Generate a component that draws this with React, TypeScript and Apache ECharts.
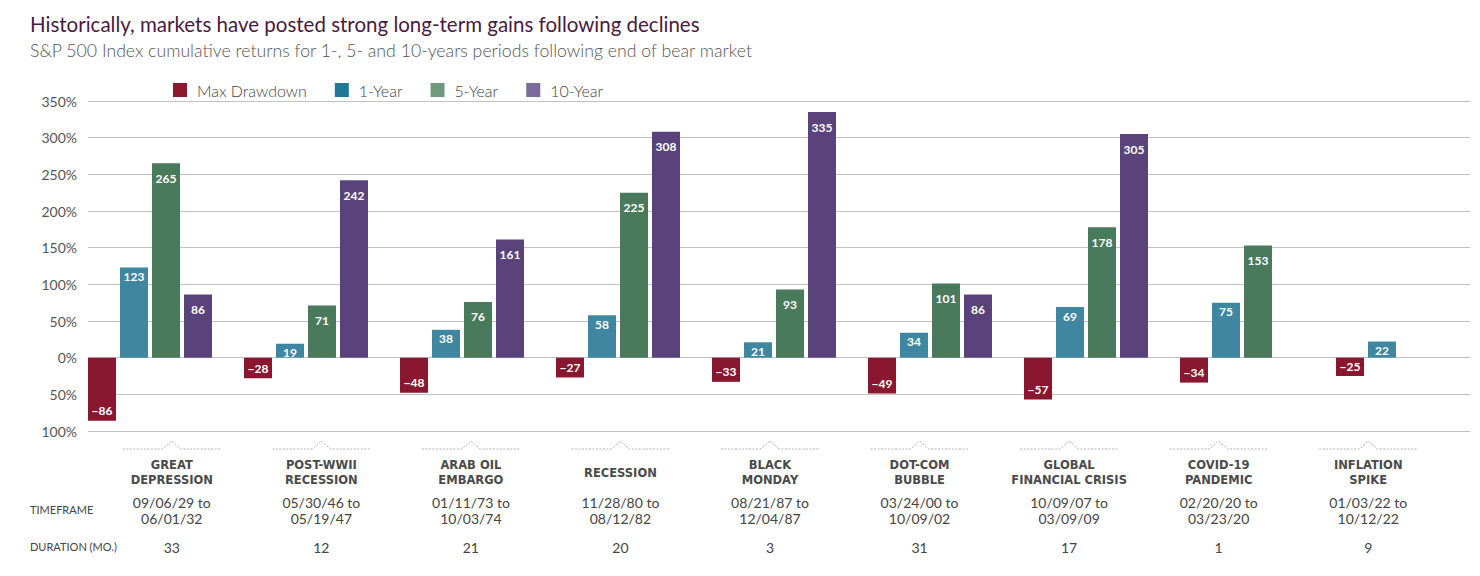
import React, { useEffect, useRef } from "react";
import * as echarts from "echarts";

const categories = [
  "GREAT\nDEPRESSION",
  "POST-WWII\nRECESSION",
  "ARAB OIL\nEMBARGO",
  "RECESSION",
  "BLACK\nMONDAY",
  "DOT-COM\nBUBBLE",
  "GLOBAL\nFINANCIAL CRISIS",
  "COVID-19\nPANDEMIC",
  "INFLATION\nSPIKE",
];
const timeframes = [
  "09/06/29 to\n06/01/32",
  "05/30/46 to\n05/19/47",
  "01/11/73 to\n10/03/74",
  "11/28/80 to\n08/12/82",
  "08/21/87 to\n12/04/87",
  "03/24/00 to\n10/09/02",
  "10/09/07 to\n03/09/09",
  "02/20/20 to\n03/23/20",
  "01/03/22 to\n10/12/22",
];
const durations = ["33", "12", "21", "20", "3", "31", "17", "1", "9"];

const maxDrawdown = [-86, -28, -48, -27, -33, -49, -57, -34, -25];
const oneYear = [123, 19, 38, 58, 21, 34, 69, 75, 22];
const fiveYear = [265, 71, 76, 225, 93, 101, 178, 153, null];
const tenYear = [86, 242, 161, 308, 335, 86, 305, null, null];

const yTicks = { min: -100, max: 350, interval: 50 };

const FONT = "Lato, 'Noto Sans', sans-serif";
const CAT_FONT = "'DejaVu Sans', 'Open Sans', sans-serif";

const barColors = ["#8a1730", "#3f87a0", "#4a7a5c", "#5a437a"];
const legendColors = ["#8b1a2e", "#1e7896", "#70997e", "#7a6a9e"];
const seriesNames = ["Max Drawdown", "1-Year", "5-Year", "10-Year"];

export default function App() {
  const ref = useRef<HTMLDivElement>(null);

  useEffect(() => {
    if (!ref.current) return;
    const chart = echarts.init(ref.current, null, { renderer: "svg" });

    const labelBase = {
      show: true,
      color: "#ffffff",
      fontFamily: FONT,
      fontWeight: "bold" as const,
      fontSize: 12,
    };

    const seriesData = [maxDrawdown, oneYear, fiveYear, tenYear];
    const barSeries = seriesData.map((d, i) => ({
      name: seriesNames[i],
      type: "bar",
      xAxisIndex: 1,
      yAxisIndex: 1,
      data: d,
      barWidth: 28,
      barGap: "14.3%",
      itemStyle: { color: barColors[i] },
      label: {
        ...labelBase,
        position: i === 0 ? "insideBottom" : "insideTop",
        distance: i === 0 ? 4 : i === 1 ? 3 : 9,
        formatter: (p: any) => (p.value < 0 ? "\u2212" + Math.abs(p.value) : String(p.value)),
      },
    }));

    const labelSeries = {
      type: "custom",
      xAxisIndex: 2,
      yAxisIndex: 2,
      silent: true,
      data: categories.map((_, i) => i),
      renderItem: (params: any, api: any) => {
        const idx = api.value(0);
        const x = api.coord([idx, 0])[0];
        const top = params.coordSys.y;
        const yl = top + 14;
        const lineStyle = { stroke: "#b0b0b0", lineWidth: 1, lineDash: [2, 1.5] };
        return {
          type: "group",
          children: [
            {
              type: "polyline",
              shape: { points: [[x - 49, yl], [x - 9, yl], [x, yl - 8], [x + 9, yl], [x + 49, yl]] },
              style: { ...lineStyle, fill: null },
            },
            {
              type: "text",
              style: {
                text: categories[idx],
                x,
                y: top + 37.5,
                align: "center",
                verticalAlign: "middle",
                lineHeight: 15,
                fontFamily: CAT_FONT,
                fontWeight: "bold",
                fontSize: 11.5,
                fill: "#4a4a4a",
              },
            },
            {
              type: "text",
              style: {
                text: timeframes[idx],
                x,
                y: top + 75,
                align: "center",
                verticalAlign: "middle",
                lineHeight: 16,
                fontFamily: FONT,
                fontSize: 14,
                fill: "#444444",
              },
            },
            {
              type: "text",
              style: {
                text: durations[idx],
                x,
                y: top + 112,
                align: "center",
                verticalAlign: "middle",
                fontFamily: FONT,
                fontSize: 14,
                fill: "#444444",
              },
            },
          ],
        };
      },
    };

    const option: any = {
      animation: false,
      backgroundColor: "#ffffff",
      title: [
        {
          text: "Historically, markets have posted strong long-term gains following declines",
          left: 30,
          top: 13,
          padding: 0,
          textStyle: { fontFamily: FONT, fontSize: 20.5, fontWeight: "normal", color: "#4a1a40" },
        },
        {
          text: "S&P 500 Index cumulative returns for 1-, 5- and 10-years periods following end of bear market",
          left: 30,
          top: 41,
          padding: 0,
          textStyle: { fontFamily: FONT, fontSize: 17.7, fontWeight: 300, color: "#555555" },
        },
      ],
      legend: {
        left: 173,
        top: 82,
        padding: 0,
        itemWidth: 14,
        itemHeight: 14,
        itemGap: 28,
        icon: "rect",
        textStyle: { fontFamily: FONT, fontSize: 16, fontWeight: 300, color: "#444444", padding: [0, 0, 0, 5] },
        data: seriesNames.map((n, i) => ({ name: n, itemStyle: { color: legendColors[i] } })),
      },
      grid: [
        { left: 88, right: 10, top: 101, bottom: 145 },
        { left: 72, right: 4, top: 101, bottom: 145 },
        { left: 97, width: 1346, top: 435, height: 125 },
      ],
      xAxis: [
        { type: "category", gridIndex: 0, data: categories, show: false },
        { type: "category", gridIndex: 1, data: categories, show: false },
        { type: "category", gridIndex: 2, data: categories, show: false },
      ],
      yAxis: [
        {
          type: "value",
          gridIndex: 0,
          min: yTicks.min,
          max: yTicks.max,
          interval: yTicks.interval,
          axisLine: { show: false },
          axisTick: { show: false },
          axisLabel: {
            margin: 11,
            fontFamily: FONT,
            fontSize: 14,
            color: "#555555",
            formatter: (v: number) => Math.abs(v) + "%",
          },
          splitLine: { lineStyle: { color: "#c2c2c2", width: 1 } },
        },
        {
          type: "value",
          gridIndex: 1,
          min: yTicks.min,
          max: yTicks.max,
          interval: yTicks.interval,
          show: false,
          splitLine: { show: false },
        },
        { type: "value", gridIndex: 2, min: 0, max: 1, show: false, splitLine: { show: false } },
      ],
      graphic: [
        {
          type: "text",
          left: 30,
          top: 504,
          style: { text: "TIMEFRAME", fontFamily: FONT, fontSize: 11, fill: "#444444" },
        },
        {
          type: "text",
          left: 30,
          top: 541,
          style: { text: "DURATION (MO.)", fontFamily: FONT, fontSize: 11, fill: "#444444" },
        },
      ],
      series: [...barSeries, labelSeries],
    };

    chart.setOption(option);
    return () => chart.dispose();
  }, []);

  return <div ref={ref} style={{ position: "absolute", left: 0, top: 0, width: 1480, height: 576 }} />;
}
